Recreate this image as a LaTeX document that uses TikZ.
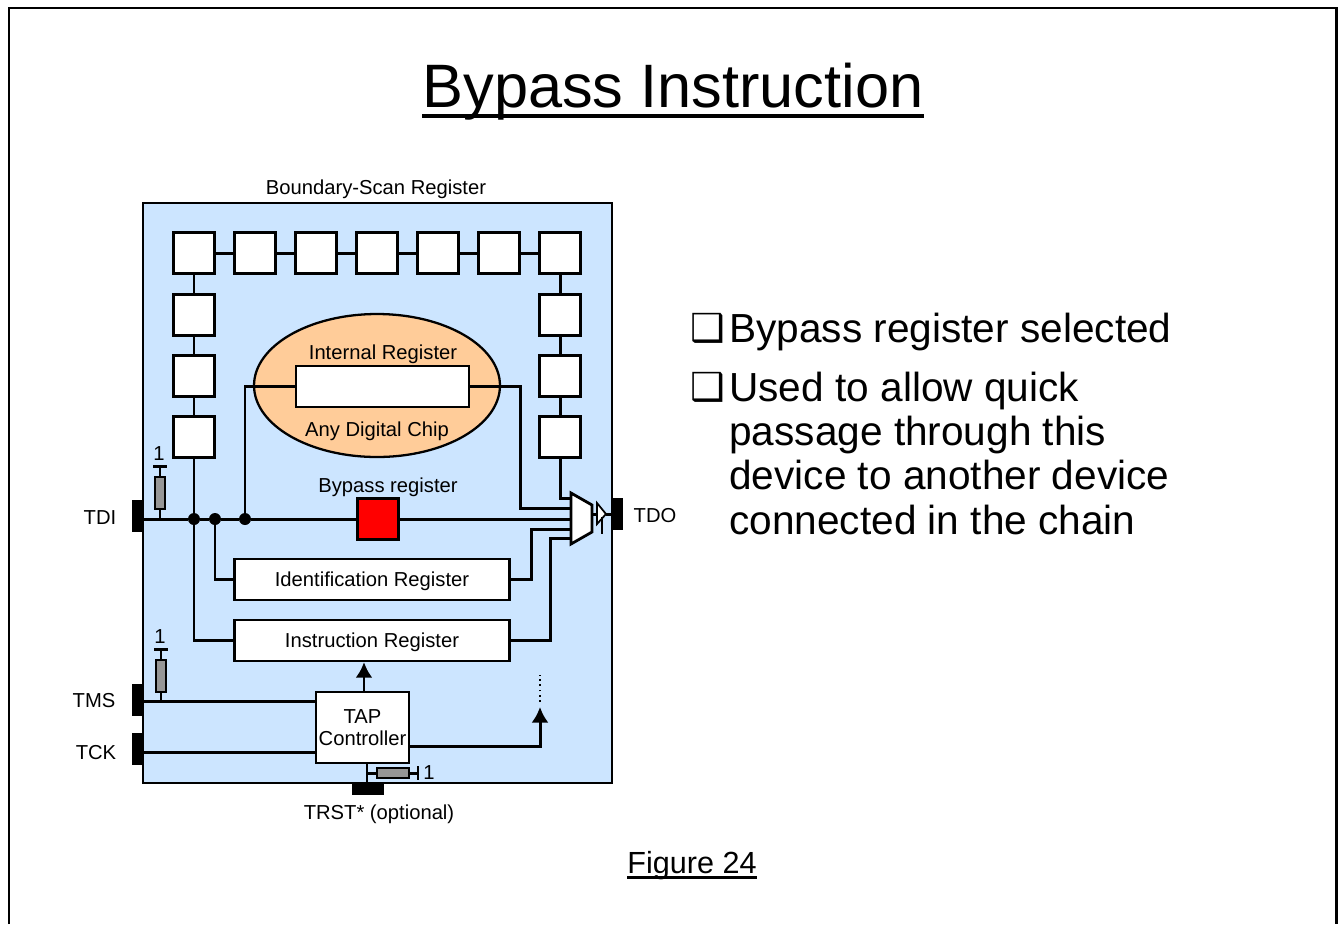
\documentclass[tikz,border=0pt]{standalone}
\usepackage{fontspec}
\setmainfont{Liberation Sans}
\newfontfamily\boxfont{DejaVu Sans}
\usetikzlibrary{arrows.meta,shapes.geometric,positioning,calc}
\definecolor{chipblue}{RGB}{204,229,255}
\definecolor{chiporange}{RGB}{255,204,153}
\definecolor{resgray}{RGB}{150,150,150}
\tikzset{
  wire/.style={line width=1.7pt},
  cell/.style={draw, fill=white, line width=1.3pt, minimum size=0.82cm, inner sep=0pt},
  regbox/.style={draw, fill=white, line width=1.3pt, minimum width=5.5cm, minimum height=0.82cm, inner sep=0pt, font=\fontsize{11.5}{12.5}\selectfont},
  pin/.style={fill=black, inner sep=0pt},
  dotn/.style={circle, fill=black, inner sep=0pt, minimum size=0.24cm},
  vres/.style={draw, fill=resgray, line width=1.1pt, minimum width=0.21cm, minimum height=0.63cm, inner sep=0pt},
  hres/.style={draw, fill=resgray, line width=1.1pt, minimum width=0.63cm, minimum height=0.2cm, inner sep=0pt},
  lbl/.style={inner sep=0pt, font=\fontsize{11.5}{12.5}\selectfont},
  bigtxt/.style={inner sep=0pt, align=left, anchor=north west, font=\fontsize{23.1}{25.1}\selectfont},
  tick/.style={inner sep=0pt, font=\boxfont\fontsize{22}{25}\selectfont}
}
\begin{document}
\begin{tikzpicture}[x=0.02cm, y=-0.02cm]
  \useasboundingbox (0,0) rectangle (1338,924);
  \draw[line width=1.3pt] (9,924) -- (9,8) -- (1336.5,8) -- (1336.5,924);

  % Title
  \node[inner sep=0pt, anchor=base, font=\fontsize{34.9}{38}\selectfont] (title) at (673,107.5) {Bypass Instruction};
  \draw[line width=2.8pt] ($(title.base west)+(0,8.5)$) -- ($(title.base east)+(0,8.5)$);

  % Chip body
  \node[lbl] (bsr) at (376,189) {Boundary-Scan Register};
  \draw[fill=chipblue, line width=1.3pt] (143,203) rectangle (612,783);

  % Boundary cells
  \node[cell] (cell1) at (194,253) {};
  \node[cell] (cell2) at (255,253) {};
  \node[cell] (cell3) at (316,253) {};
  \node[cell] (cell4) at (377,253) {};
  \node[cell] (cell5) at (438,253) {};
  \node[cell] (cell6) at (499,253) {};
  \node[cell] (cell7) at (560,253) {};
  \node[cell] (lcell1) at (194,315) {};
  \node[cell] (lcell2) at (194,376) {};
  \node[cell] (lcell3) at (194,437) {};
  \node[cell] (rcell1) at (560,315) {};
  \node[cell] (rcell2) at (560,376) {};
  \node[cell] (rcell3) at (560,437) {};
  \draw[wire] (cell1) -- (cell2);
  \draw[wire] (cell2) -- (cell3);
  \draw[wire] (cell3) -- (cell4);
  \draw[wire] (cell4) -- (cell5);
  \draw[wire] (cell5) -- (cell6);
  \draw[wire] (cell6) -- (cell7);
  \draw[wire] (cell1) -- (lcell1);
  \draw[wire] (lcell1) -- (lcell2);
  \draw[wire] (lcell2) -- (lcell3);
  \draw[wire] (cell7) -- (rcell1);
  \draw[wire] (rcell1) -- (rcell2);
  \draw[wire] (rcell2) -- (rcell3);

  % Internal register
  \node[ellipse, draw, fill=chiporange, line width=1.3pt, minimum width=4.92cm, minimum height=2.86cm, inner sep=0pt] (chip) at (377,385.5) {};
  \node[cell, minimum width=3.46cm] (intreg) at (382.5,386.5) {};
  \node[lbl] (intlbl) at (383,354) {Internal Register};
  \node[lbl] (chiplbl) at (377,431) {Any Digital Chip};

  % Scan registers
  \node[cell, fill=red] (bypass) at (378,519) {};
  \node[lbl] (bypasslbl) at (388,487) {Bypass register};
  \node[regbox] (idreg) at (372,579.5) {\raisebox{-4pt}[0pt][0pt]{Identification Register}};
  \node[regbox] (insreg) at (372,640.5) {\raisebox{-4pt}[0pt][0pt]{Instruction Register}};

  % Pins
  \node[pin, minimum width=0.24cm, minimum height=0.64cm] (tdi) at (138,516) {};
  \node[pin, minimum width=0.24cm, minimum height=0.64cm] (tdo) at (617,514) {};
  \node[pin, minimum width=0.24cm, minimum height=0.64cm] (tms) at (138,700) {};
  \node[pin, minimum width=0.24cm, minimum height=0.64cm] (tck) at (138,749) {};
  \node[pin, minimum width=0.64cm, minimum height=0.24cm] (trst) at (368,789) {};
  \node[lbl] (tdilbl) at (100,518) {TDI};
  \node[lbl] (tdolbl) at (655,516) {TDO};
  \node[lbl] (tmslbl) at (94,701) {TMS};
  \node[lbl] (tcklbl) at (96,753) {TCK};
  \node[lbl] (trstlbl) at (379,814) {TRST* (optional)};

  % Junctions
  \node[dotn] (dota) at (194,519) {};
  \node[dotn] (dotb) at (215,519) {};
  \node[dotn] (dotc) at (245,519) {};
  \coordinate (tdiin) at (143,519);

  % Mux and output buffer
  \coordinate (muxin1) at (571,498);
  \coordinate (muxin2) at (571,508);
  \coordinate (muxin3) at (571,519);
  \coordinate (muxin4) at (571,529);
  \coordinate (muxin5) at (571,538);
  \coordinate (muxout) at (592,514);
  \coordinate (bufin) at (597,514);
  \coordinate (bufout) at (606,514);
  \draw[wire] (tdiin) -- (dota);
  \draw[wire] (dota) -- (dotb);
  \draw[wire] (dotb) -- (dotc);
  \draw[wire] (dotc) -- (bypass);
  \draw[wire] (bypass) -- (muxin3);
  \draw[wire] (lcell3) -- (dota);
  \draw[wire] (dota) |- (insreg.west);
  \draw[wire] (dotb) |- (idreg.west);
  \draw[wire] (dotc) |- (intreg.west);
  \draw[wire] (intreg.east) -| (520,450) |- (muxin2);
  \draw[wire] (rcell3) |- (muxin1);
  \draw[wire] (idreg.east) -| (531,560) |- (muxin4);
  \draw[wire] (insreg.east) -| (550,600) |- (muxin5);
  \draw[fill=white, line width=1.6pt] (571,493) -- (592,505) -- (592,532) -- (571,544) -- cycle;
  \draw[wire] (muxout) -- (bufin);
  \draw[wire] (bufout) -- (tdo);
  \draw[fill=white, line width=1pt] (597,503) -- (606,514) -- (597,524) -- cycle;
  \draw[line width=0.7pt] (602,517) -- (602,534);

  % Resistors
  \node[vres] (restdi) at (160,493) {};
  \node[vres] (restms) at (161,676) {};
  \node[hres] (restrst) at (393,773) {};
  \coordinate (tditop) at (160,466);
  \coordinate (tmstop) at (161,649);
  \coordinate (trstend) at (418,773);
  \node[lbl] (onea) at (159,454) {1};
  \node[lbl] (oneb) at (160,637) {1};
  \node[lbl] (onec) at (429,773) {1};
  \draw[wire] (restdi.south) -- (restdi.south |- tdiin);
  \draw[wire] (restdi.north) -- (tditop);
  \draw[wire] ($(tditop)+(-7,0)$) -- ($(tditop)+(7,0)$);
  \draw[wire] (restms.south) -- (restms.south |- 0,701);
  \draw[wire] (restms.north) -- (tmstop);
  \draw[wire] ($(tmstop)+(-7,0)$) -- ($(tmstop)+(7,0)$);
  \draw[wire] (restrst.east) -- (trstend);
  \draw[wire] ($(trstend)+(0,-7)$) -- ($(trstend)+(0,7)$);

  % TAP controller
  \node[cell, minimum width=1.86cm, minimum height=1.42cm, align=center, font=\fontsize{11.5}{12.5}\selectfont] (tap) at (362.5,727.5) {TAP\\Controller};
  \coordinate (tapout) at (540,707);
  \coordinate (dotstart) at (540,702);
  \coordinate (dotend) at (540,675);
  \draw[wire] (tms.east |- 0,701) -- (tap.west |- 0,701);
  \draw[wire] (tck.east |- 0,752) -- (tap.west |- 0,752);
  \draw[wire, -{Latex[length=0.31cm, width=0.34cm]}] (tap.north -| 364,0) -- (insreg.south -| 364,0);
  \draw[wire, -{Latex[length=0.31cm, width=0.34cm]}] (tap.east |- 0,746) -| (tapout);
  \draw[line width=1pt, dotted] (dotstart) -- (dotend);
  \draw[wire] (tap.south -| 367,0) -- (trst.north -| 367,0);
  \draw[wire] (366,773) -- (restrst.west);

  % Bullet text
  \node[tick] (ticka) at (708,328) {❑};
  \node[tick] (tickb) at (708,387) {❑};
  \node[bigtxt] (bulleta) at (729,313) {Bypass register selected};
  \node[bigtxt] (bulletb) at (729,372) {Used to allow quick\\passage through this\\device to another device\\connected in the chain};

  % Caption
  \node[inner sep=0pt, anchor=base, font=\fontsize{17.4}{20}\selectfont] (figlbl) at (692,873) {Figure 24};
  \draw[line width=1.7pt] ($(figlbl.base west)+(0,4.5)$) -- ($(figlbl.base east)+(0,4.5)$);
\end{tikzpicture}
\end{document}
